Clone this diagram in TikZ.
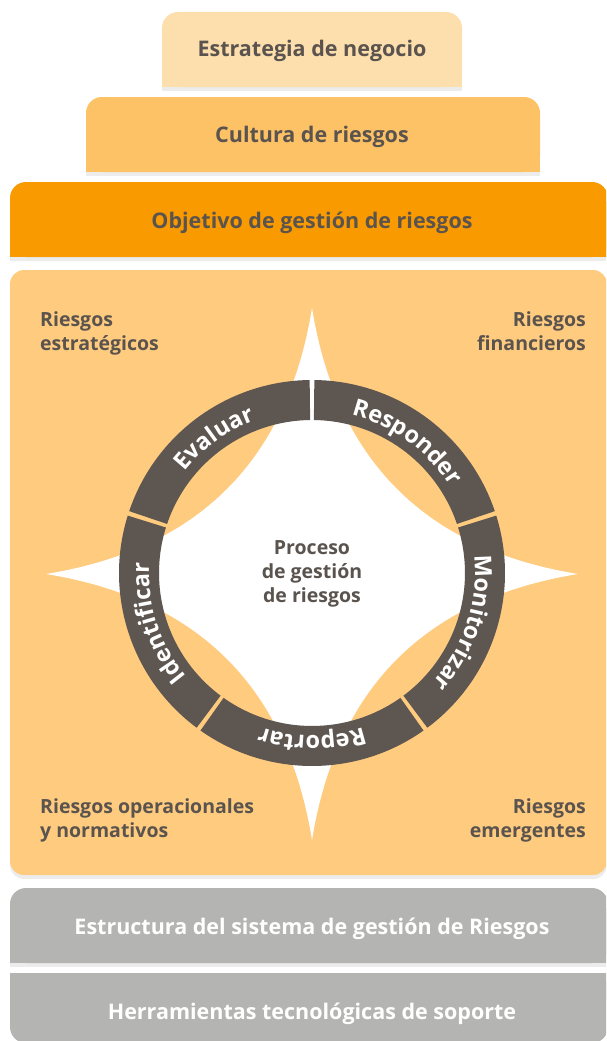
\documentclass[tikz,border=0pt]{standalone}
\usepackage{fontspec}
\setmainfont{Open Sans}
\usepackage{tikz}
\usetikzlibrary{positioning,
                shadows,
                decorations.text}
\definecolor{txtgray}{HTML}{5A534E}
\definecolor{ringgray}{HTML}{5E5650}
\definecolor{peach}{HTML}{FDDFAE}
\definecolor{apricot}{HTML}{FDC166}
\definecolor{deeporange}{HTML}{F99A00}
\definecolor{panelorange}{HTML}{FECB7F}
\definecolor{boxgray}{HTML}{B4B5B2}
\newcommand{\boxfont}{\fontsize{21.5}{25}\selectfont\bfseries}
\newcommand{\panelfont}{\fontsize{19.5}{24}\selectfont\bfseries}
\newcommand{\ringfont}{\fontsize{23.5}{23.5}\selectfont\bfseries\color{white}}
% box with rounded top corners: x1,y1,x2,y2,colour
\newcommand{\tabbox}[5]{%
    \fill[#5, rounded corners=16] (#1,#2) rectangle (#3,#4);
    \fill[#5, drop shadow={opacity=.15, shadow xshift=0pt, shadow yshift=-4pt}] (#1,#2+20) rectangle (#3,#4);
}
\tikzstyle{boxtext} = [font=\boxfont, text=txtgray, inner sep=0pt, anchor=base]
\tikzstyle{cornertext} = [font=\panelfont, text=txtgray, inner sep=0pt]

\begin{document}
\begin{tikzpicture}[x=1pt, y=-1pt]
    \useasboundingbox (0,0) rectangle (606,1041);
    \clip (0,0) rectangle (606,1041);

    % stacked top boxes
    \tabbox{162}{12}{462}{87}{peach}
    \tabbox{86}{97}{540}{172}{apricot}
    \tabbox{10}{182}{608}{257}{deeporange}
    \node[boxtext] (estrategia) at (312,56.5) {Estrategia de negocio};
    \node[boxtext] (cultura) at (312,142.5) {Cultura de riesgos};
    \node[boxtext] (objetivo) at (312,228.5) {Objetivo de gestión de riesgos};

    % risk panel
    \fill[panelorange, rounded corners=14, drop shadow={opacity=.15, shadow xshift=0pt, shadow yshift=-4pt}] (10,270) rectangle (607,875);

    % four-pointed star
    \begin{scope}[shift={(312,574)}]
        \fill[white] (0,-266) .. controls (-24.7,-113.3) and (-113.3,-24.7) .. (-266,0)
                     .. controls (-113.3,24.7) and (-24.7,113.3) .. (0,266)
                     .. controls (24.7,113.3) and (113.3,24.7) .. (266,0)
                     .. controls (113.3,-24.7) and (24.7,-113.3) .. cycle;
    \end{scope}

    % process ring
    \begin{scope}[shift={(312,573)}, y=1pt]
        \foreach \word [count=\i from 0] in {Responder,Monitorizar,Reportar,Identificar,Evaluar}{
            \pgfmathsetmacro\sa{90-72*\i-0.7}
            \pgfmathsetmacro\ea{90-72*(\i+1)+0.7}
            \fill[ringgray] (\sa:193) arc[start angle=\sa, end angle=\ea, radius=193]
                -- (\ea:153) arc[start angle=\ea, end angle=\sa, radius=153] -- cycle;
            \path[decorate, decoration={text along path, text align=center,
                  text/.expanded={|\noexpand\ringfont|\word}}]
                (\sa:163) arc[start angle=\sa, end angle=\ea, radius=163];
        }
    \end{scope}
    \node[cornertext, align=center] (proceso) at (312,574) {Proceso\\de gestión\\de riesgos};

    % corner labels
    \node[cornertext, align=left, anchor=north west] (estrategicos) at (40,311) {Riesgos\\estratégicos};
    \node[cornertext, align=right, anchor=north east] (financieros) at (586,311) {Riesgos\\financieros};
    \node[cornertext, align=left, anchor=north west] (operacionales) at (40,798) {Riesgos operacionales\\y normativos};
    \node[cornertext, align=right, anchor=north east] (emergentes) at (586,798) {Riesgos\\emergentes};

    % support layers
    \tabbox{10}{888}{608}{963}{boxgray}
    \fill[boxgray, rounded corners=16] (10,973) rectangle (608,1043);
    \fill[boxgray] (10,973) rectangle (608,1000);
    \node[boxtext, text=white] (estructura) at (312,934) {Estructura del sistema de gestión de Riesgos};
    \node[boxtext, text=white] (herramientas) at (312,1019.5) {Herramientas tecnológicas de soporte};
\end{tikzpicture}
\end{document}
